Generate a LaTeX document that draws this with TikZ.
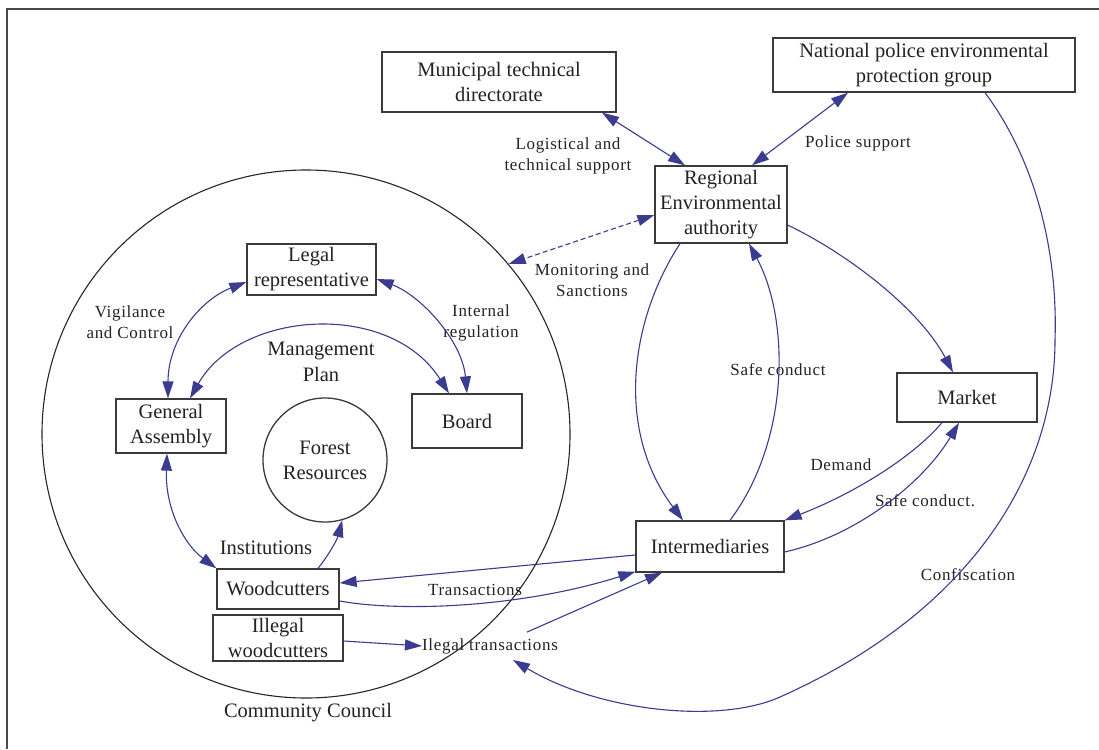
\documentclass[tikz,border=0pt]{standalone}
\usepackage{fontspec}
\setmainfont{Liberation Serif}
\newfontfamily\lblfont[LetterSpace=4]{Liberation Serif}
\usetikzlibrary{arrows.meta}

\definecolor{edgeblue}{HTML}{3B3B8F}
\definecolor{boxline}{HTML}{3A3A3A}
\definecolor{inktext}{HTML}{222222}
\definecolor{framegray}{HTML}{4A4A4A}

\begin{document}
\begin{tikzpicture}[x=1pt,y=-1pt,
  box/.style={draw=boxline, line width=1.3pt, inner sep=0pt, align=center,
    font=\fontsize{20.5}{25}\selectfont, text=inktext},
  bigtext/.style={inner sep=0pt, align=center,
    font=\fontsize{20.5}{26}\selectfont, text=inktext},
  lbl/.style={inner sep=0pt, align=center,
    font=\lblfont\fontsize{17}{21}\selectfont, text=inktext},
  flow/.style={draw=edgeblue, line width=1.1pt, -{Triangle[length=17pt,width=11pt]}},
  biflow/.style={draw=edgeblue, line width=1.1pt,
    {Triangle[length=17pt,width=11pt]}-{Triangle[length=17pt,width=11pt]}},
]
\useasboundingbox (0,0) rectangle (1099,749);

% page frame
\draw[framegray, line width=1.8pt] (7,749) -- (7,9) -- (1099,9);

% community council ring
\node[draw=black!85, circle, line width=1.1pt, minimum size=528pt, inner sep=0pt] (council) at (306,434) {};
\node[bigtext] (cclabel) at (308,713) {Community Council};

% actors
\node[box, minimum width=234pt, minimum height=60pt] (muni) at (499,82) {Municipal technical\\directorate};
\node[box, minimum width=302pt, minimum height=54pt] (natl) at (924,65) {National police environmental\\protection group};
\node[box, minimum width=132pt, minimum height=77pt] (rea) at (721,204.5) {Regional\\Environmental\\authority};
\node[box, minimum width=129pt, minimum height=51pt] (legal) at (311.5,269.5) {Legal\\representative};
\node[box, minimum width=110pt, minimum height=54pt] (ga) at (171,426) {General\\Assembly};
\node[box, minimum width=110pt, minimum height=54pt] (board) at (467,421) {Board};
\node[draw=boxline, circle, line width=1.3pt, minimum size=124pt, inner sep=0pt, align=center,
  font=\fontsize{20.5}{25}\selectfont, text=inktext] (forest) at (325,460) {Forest\\Resources};
\node[box, minimum width=140pt, minimum height=49pt] (market) at (967,397.5) {Market};
\node[box, minimum width=148pt, minimum height=51pt] (inter) at (710,546.5) {Intermediaries};
\node[box, minimum width=122pt, minimum height=40pt] (wood) at (278,589) {Woodcutters};
\node[box, minimum width=130pt, minimum height=46pt] (ill) at (278,638) {Illegal\\woodcutters};
\node[lbl] (ilt) at (490,646) {Ilegal transactions};

% edge labels
\node[lbl] (lbllog) at (568,156) {Logistical and\\technical support};
\node[lbl] (lblpol) at (858,143) {Police support};
\node[lbl] (lblmon) at (592,280) {Monitoring and\\Sanctions};
\node[lbl] (lblvig) at (130,322) {Vigilance\\and Control};
\node[lbl] (lblint) at (481,323) {Internal\\regulation};
\node[bigtext] (lblman) at (321,362) {Management\\Plan};
\node[bigtext] (lblins) at (266,548) {Institutions};
\node[lbl] (lbltra) at (475,590) {Transactions};
\node[lbl] (lblsaf) at (778,370) {Safe conduct};
\node[lbl] (lbldem) at (841,465) {Demand};
\node[lbl] (lblsaf2) at (925,501) {Safe conduct.};
\node[lbl] (lblcon) at (968,575) {Confiscation};

% connectors
\draw[biflow] ([xshift=103pt]muni.south) -- ([xshift=-36pt]rea.north);
\draw[biflow] ([xshift=-76pt]natl.south) -- ([xshift=31pt]rea.north);
\draw[biflow, dash pattern=on 5pt off 3pt] ([yshift=-10.5pt]rea.west) -- (council.40);

\draw[flow] ([xshift=61pt]natl.south)
  .. controls (1035,160) and (1058,250) .. (1055,340)
  .. controls (1055,470) and (975,610) .. (780,697)
  .. controls (720,724) and (600,712) .. ([xshift=23pt,yshift=-6pt]ilt.south);

\draw[flow] ([xshift=-41pt]rea.south) .. controls (630,320) and (615,430) .. ([xshift=-27pt]inter.north);
\draw[flow] ([xshift=20pt]inter.north) .. controls (790,440) and (790,320) .. ([xshift=28pt]rea.south);
\draw[flow] ([yshift=-20.5pt]rea.east) .. controls (850,255) and (920,310) .. ([xshift=-14pt]market.north);
\draw[flow] ([xshift=-25pt]market.south) .. controls (910,460) and (850,495) .. (inter.north east);
\draw[flow] ([yshift=-5.5pt]inter.east) .. controls (860,535) and (925,480) .. ([xshift=-8pt]market.south);

\draw[flow] ([yshift=-8.5pt]inter.west) -- ([yshift=6pt]wood.east);
\draw[flow] ([yshift=-12pt]wood.east) .. controls (400,612) and (520,608) .. ([yshift=1pt]inter.south west);
\draw[flow] ([yshift=-3pt]ill.east) -- (ilt.west);
\draw[flow] ([xshift=37pt,yshift=6pt]ilt.north) -- ([xshift=-48pt]inter.south);

\draw[flow] ([xshift=40pt]wood.north) .. controls (328,556) and (337,540) .. (forest.-74);
\draw[biflow] ([xshift=-4pt]ga.south) .. controls (165,510) and (185,545) .. (wood.north west);
\draw[biflow] ([xshift=-3pt]ga.north) .. controls (168,340) and (200,300) .. ([yshift=-12.5pt]legal.west);
\draw[biflow] ([yshift=-9.5pt]legal.east) .. controls (420,295) and (462,340) .. (board.north);
\draw[biflow] ([xshift=19pt]ga.north) .. controls (240,310) and (390,300) .. ([xshift=-18pt]board.north);
\end{tikzpicture}
\end{document}
